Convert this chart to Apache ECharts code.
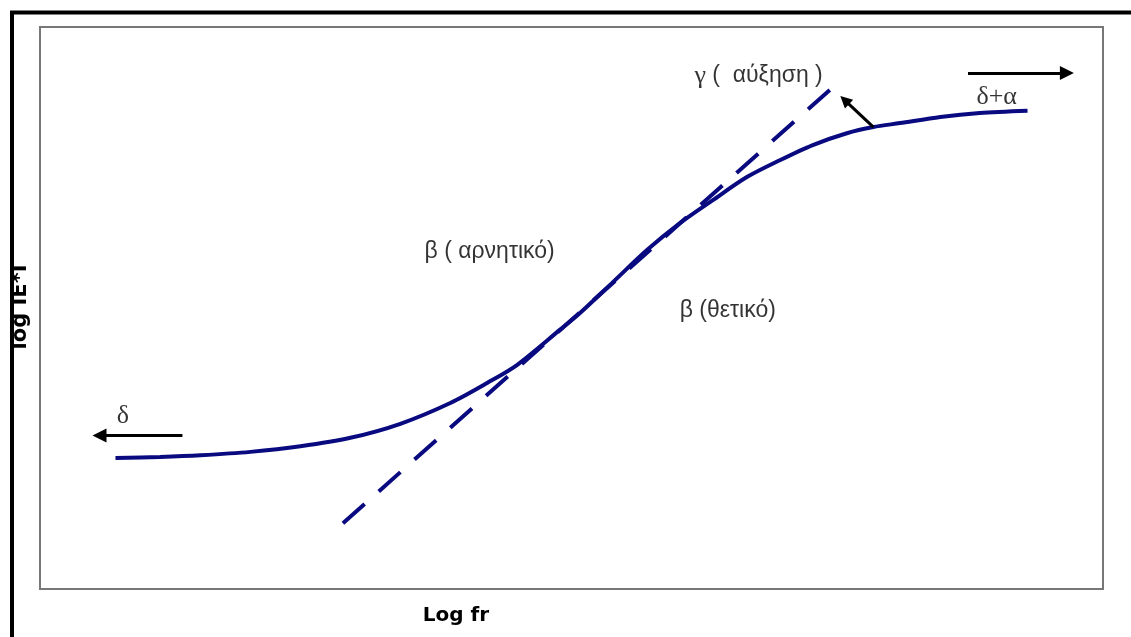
<!DOCTYPE html>
<html>
<head>
<meta charset="utf-8">
<script src="https://cdn.jsdelivr.net/npm/echarts@6/dist/echarts.min.js"></script>
<style>
  html, body { margin: 0; padding: 0; background: #ffffff; }
  #chart { width: 1131px; height: 637px; }
</style>
</head>
<body>
<div id="chart"></div>
<script>
// Master curve of log|E*| against log reduced frequency (arbitrary 0–100 units)
const curveX = [7.1, 11.3, 15.1, 19.8, 24.5, 29.2, 33.9, 38.6, 42.1, 44.9, 48.9, 50.8, 53.9,
                57.1, 60.2, 63.3, 66.5, 69.6, 72.7, 75.9, 78.4, 80.9, 84.7, 88.4, 92.9];
const curveY = [23.3, 23.5, 23.8, 24.4, 25.4, 26.9, 29.4, 33.1, 36.7, 39.9, 46.1, 49.1, 54.6,
                60.3, 65.1, 69.2, 73.3, 76.3, 79.0, 81.1, 82.2, 82.9, 84.0, 84.7, 85.1];

// Tangent through the inflection point (slope γ)
const tangentX = [28.5, 74.3];
const tangentY = [11.7, 88.8];

// Direction arrows: [from, to]
const arrowDelta = [[13.4, 27.3], [5.6, 27.3]];
const arrowDeltaAlpha = [[87.3, 91.8], [96.6, 91.8]];
const arrowGamma = [[78.4, 82.2], [75.7, 87.0]];

// Parameter annotations
const labelText = ['{s|γ} (  αύξηση )', '{s|δ+α}', '{s|δ}', 'β ( αρνητικό)', 'β (θετικό)'];
const labelX = [67.6, 90.0, 7.8, 42.3, 64.7];
const labelY = [91.3, 87.5, 30.8, 60.0, 49.5];

const xAxisName = 'Log fr';
const yAxisName = 'log IE*I';

const navy = '#0a0a80';
const chart = echarts.init(document.getElementById('chart'), null, { renderer: 'canvas' });

const pair = (xs, ys) => xs.map((x, i) => [x, ys[i]]);

chart.setOption({
  backgroundColor: '#ffffff',
  animation: false,
  grid: {
    left: 40, top: 27, width: 1063, height: 562,
    show: true, borderColor: '#777777', borderWidth: 2, backgroundColor: 'transparent'
  },
  xAxis: {
    type: 'value', min: 0, max: 100,
    axisLine: { show: false }, axisTick: { show: false }, axisLabel: { show: false },
    splitLine: { show: false }
  },
  yAxis: {
    type: 'value', min: 0, max: 100,
    axisLine: { show: false }, axisTick: { show: false }, axisLabel: { show: false },
    splitLine: { show: false }
  },
  graphic: [
    {
      type: 'rect', left: 9.5, top: 10, silent: true,
      shape: { x: 0, y: 0, width: 1200, height: 700 },
      style: { fill: 'none', stroke: '#000000', lineWidth: 4 }
    },
    {
      type: 'text', x: 456, y: 616, silent: true,
      style: {
        text: xAxisName, fill: '#000000', font: 'bold 20px "DejaVu Sans"',
        textAlign: 'center', textVerticalAlign: 'middle'
      }
    },
    {
      type: 'text', x: 21, y: 307, rotation: Math.PI / 2, silent: true,
      style: {
        text: yAxisName, fill: '#000000', font: 'bold 21px "DejaVu Sans"',
        textAlign: 'center', textVerticalAlign: 'middle'
      }
    }
  ],
  series: [
    {
      type: 'line', data: pair(curveX, curveY), smooth: 0.3, symbol: 'none',
      lineStyle: { color: navy, width: 4 }, z: 3
    },
    {
      type: 'line', data: pair(tangentX, tangentY), symbol: 'none',
      lineStyle: { color: navy, width: 4, type: [29, 18.9], cap: 'butt' }, z: 2
    },
    {
      type: 'lines', coordinateSystem: 'cartesian2d', z: 4,
      symbol: ['none', 'triangle'], symbolSize: [13, 14],
      lineStyle: { color: '#000000', width: 3, opacity: 1 },
      data: [
        { coords: arrowDelta },
        { coords: arrowDeltaAlpha },
        { coords: arrowGamma, symbolSize: [11, 12] }
      ]
    },
    {
      type: 'scatter', symbolSize: 0, silent: true, z: 5,
      data: labelText.map((t, i) => ({ value: [labelX[i], labelY[i]], name: t })),
      label: {
        show: true, position: 'inside', formatter: p => p.name,
        color: '#000000', fontFamily: '"Liberation Sans", Arial, sans-serif', fontSize: 23,
        rich: {
          s: { fontFamily: '"Liberation Serif", "Times New Roman", serif', fontSize: 26, color: '#000000' }
        }
      }
    }
  ]
});
</script>
</body>
</html>
